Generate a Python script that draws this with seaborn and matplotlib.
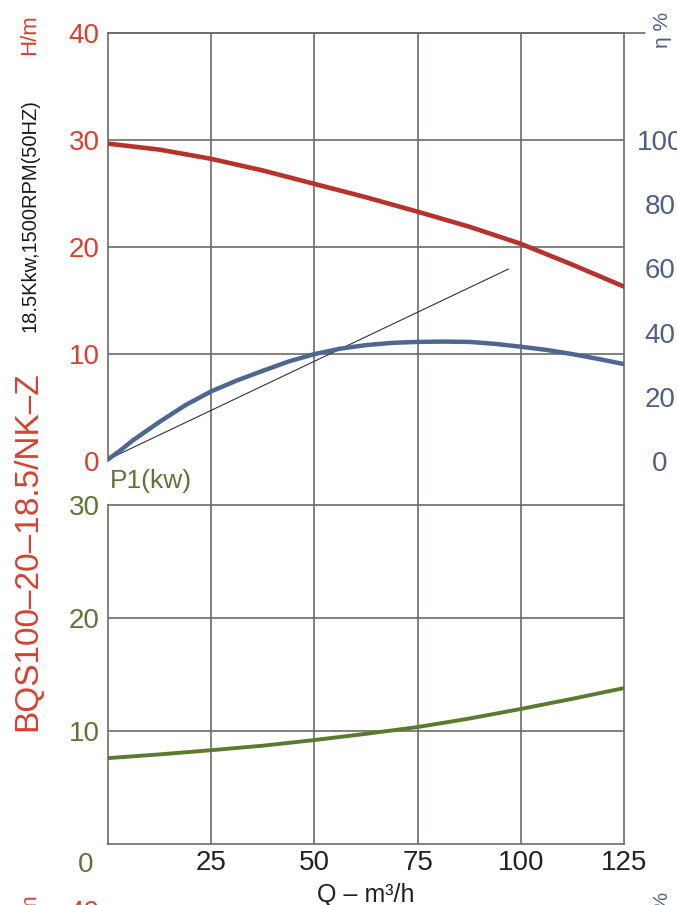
import matplotlib
matplotlib.use("Agg")
import matplotlib.pyplot as plt
from matplotlib.transforms import ScaledTranslation
import seaborn as sns

# ---- pump curve readings -------------------------------------------------
q_ticks = [25, 50, 75, 100, 125]
head_ticks = [0, 10, 20, 30, 40]
eff_ticks = [0, 20, 40, 60, 80, 100]
power_ticks = [0, 10, 20, 30]

q_head = [0, 12.5, 25, 37.5, 50, 62.5, 75, 87.5, 100, 112.5, 125]
head = [29.66, 29.1, 28.24, 27.15, 25.9, 24.65, 23.3, 21.9, 20.3, 18.35, 16.3]

q_eff = [0, 3, 6, 9, 12.5, 18.75, 25, 31.25, 37.5, 43.75, 50, 56.25, 62.5,
         68.75, 75, 81.25, 87.5, 93.75, 100, 106.25, 112.5, 118.75, 125]
eff = [0.5, 3.3, 6.4, 9.1, 12.2, 17.4, 21.7, 25.1, 28.1, 31.0, 33.3, 35.0, 36.1,
       36.8, 37.1, 37.2, 37.1, 36.5, 35.6, 34.6, 33.3, 31.8, 30.2]

q_ref = [0, 97]
eff_ref = [0.5, 59.8]

q_power = [0, 12.5, 25, 37.5, 50, 62.5, 75, 87.5, 100, 112.5, 125]
power = [7.6, 7.93, 8.3, 8.7, 9.2, 9.75, 10.35, 11.1, 11.95, 12.85, 13.8]

model = "BQS100\u201320\u201318.5/NK\u2013Z"
rating = "18.5Kkw,1500RPM(50HZ)"

# ---- style ---------------------------------------------------------------
sns.set_theme(style="white")
plt.rcParams["font.family"] = ["Liberation Sans", "DejaVu Sans"]

RED_TXT = "#d8402f"
RED = "#b8312a"
BLUE = "#4e6792"
BLUE_TXT = "#4f5f86"
GREEN = "#5b7a2e"
GREEN_TXT = "#5f7535"
GRID = "#6f6a63"
GW = 1.2
FS = 20

W, H = 677, 905
fig = plt.figure(figsize=(W / 100, H / 100), dpi=100)
fig.patch.set_facecolor("white")


def rect(x0, y0, x1, y1):
    return [x0 / W, 1 - y1 / H, (x1 - x0) / W, (y1 - y0) / H]


# shared vertical grid running through both panels
ax_bg = fig.add_axes(rect(108, 33, 624, 844))
ax_bg.set_xlim(0, 125)
ax_bg.set_ylim(0, 1)
ax_bg.set_xticks(q_ticks[:-1])
ax_bg.set_yticks([])
ax_bg.tick_params(labelbottom=False, length=0)
ax_bg.grid(axis="x", color=GRID, lw=GW)
for s in ["left", "top", "bottom"]:
    ax_bg.spines[s].set_visible(False)
ax_bg.spines["right"].set_color(GRID)
ax_bg.spines["right"].set_linewidth(GW)
ax_bg.set_facecolor("white")

# ---- head / efficiency panel ---------------------------------------------
ax_h = fig.add_axes(rect(108, 33, 624, 461))
ax_h.set_facecolor("none")
ax_h.set_xlim(0, 125)
ax_h.set_ylim(0, 40)
ax_h.set_xticks([])
ax_h.set_yticks(head_ticks)
ax_h.tick_params(axis="y", length=0, pad=6, labelsize=FS, labelcolor=RED_TXT)
for s in ["right", "bottom"]:
    ax_h.spines[s].set_visible(False)
for s in ["left", "top"]:
    ax_h.spines[s].set_color(GRID)
    ax_h.spines[s].set_linewidth(GW)
for v in head_ticks[1:-1]:
    ax_h.axhline(v, color=GRID, lw=GW, zorder=1)
ax_h.axhline(head_ticks[-1], 0, 1.041, color=GRID, lw=GW, clip_on=False)

sns.lineplot(x=q_head, y=head, ax=ax_h, color=RED, lw=3.3, zorder=3)

ax_e = ax_h.twinx()
ax_e.set_ylim(0, 40 * 100 / 30)
ax_e.set_yticks(eff_ticks)
ax_e.tick_params(axis="y", length=0, pad=26, labelsize=FS, labelcolor=BLUE_TXT)
plt.setp(ax_e.get_yticklabels(), ha="center")
for s in ax_e.spines.values():
    s.set_visible(False)
sns.lineplot(x=q_ref, y=eff_ref, ax=ax_e, color="#333333", lw=0.8, zorder=2)
sns.lineplot(x=q_eff, y=eff, ax=ax_e, color=BLUE, lw=3.2, zorder=3)
ax_e.set_ylabel("")
ax_h.set_ylabel("")

# ---- shaft power panel ---------------------------------------------------
ax_p = fig.add_axes(rect(108, 505, 624, 844))
ax_p.set_facecolor("none")
ax_p.set_xlim(0, 125)
ax_p.set_ylim(0, 30)
ax_p.set_xticks(q_ticks)
ax_p.set_yticks(power_ticks)
ax_p.tick_params(axis="y", length=0, pad=6, labelsize=FS, labelcolor=GREEN_TXT)
ax_p.tick_params(axis="x", length=0, pad=4, labelsize=FS, labelcolor="#222222")
ax_p.spines["right"].set_visible(False)
for s in ["left", "top", "bottom"]:
    ax_p.spines[s].set_color(GRID)
    ax_p.spines[s].set_linewidth(GW)
for v in power_ticks[1:-1]:
    ax_p.axhline(v, color=GRID, lw=GW, zorder=1)
sns.lineplot(x=q_power, y=power, ax=ax_p, color=GREEN, lw=2.8, zorder=3)
ax_p.set_ylabel("")
ax_p.set_xlabel("Q \u2013 m\u00b3/h", fontsize=18, color="#222222", labelpad=5)

# zero of the power scale sits below the axis line
zero_lbl = ax_p.get_yticklabels()[0]
zero_lbl.set_transform(zero_lbl.get_transform()
                       + ScaledTranslation(-6 / 100, -18 / 100, fig.dpi_scale_trans))

ax_p.text(0.003, 1.071, "P1(kw)", transform=ax_p.transAxes, ha="left",
          va="center", fontsize=19, color=GREEN_TXT)

# ---- side texts ----------------------------------------------------------
fig.text(30 / W, 1 - 35 / H, "H/m", rotation=90, ha="center", va="center",
         fontsize=16, color=RED_TXT)
fig.text(662 / W, 1 - 30 / H, "\u03b7 %", rotation=90, ha="center", va="center",
         fontsize=15, color=BLUE_TXT)
fig.text(28 / W, 1 - 731 / H, model, rotation=90, ha="center", va="bottom",
         fontsize=24, color=RED_TXT)
fig.text(30 / W, 1 - 332 / H, rating, rotation=90, ha="center", va="bottom",
         fontsize=14.5, color="#1a1a1a")

# top of the next sheet peeking in at the bottom edge
fig.text(30 / W, 1 - 914 / H, "H/m", rotation=90, ha="center", va="center",
         fontsize=16, color=RED_TXT)
fig.text(84 / W, 1 - 913 / H, "40", ha="center", va="center",
         fontsize=FS, color=RED_TXT)
fig.text(662 / W, 1 - 910 / H, "\u03b7 %", rotation=90, ha="center", va="center",
         fontsize=15, color=BLUE_TXT)

fig.savefig("out.png", dpi=100, facecolor="white")
